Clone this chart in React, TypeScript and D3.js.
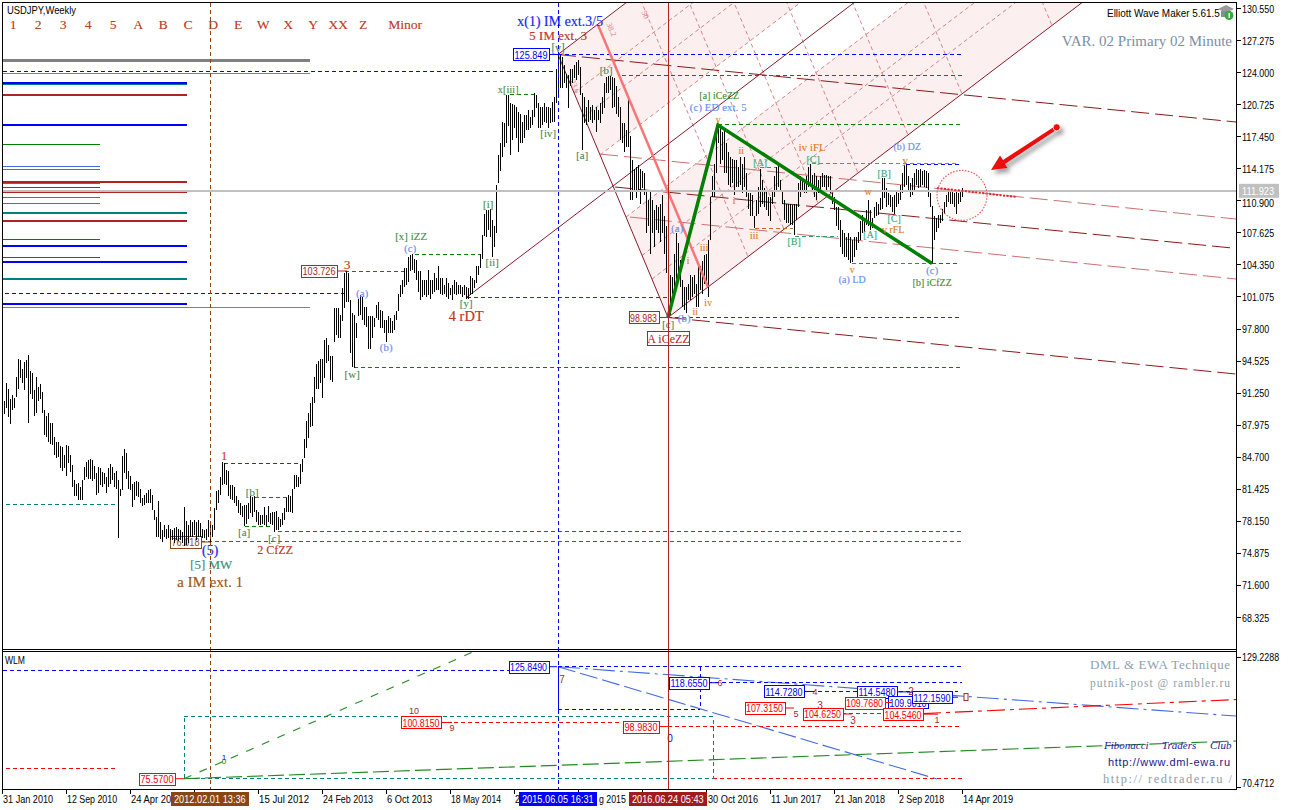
import React from 'react';
import * as d3 from 'd3';

// ---------- DATA ----------
// weekly [high, low] readings, one per week from 7 Feb 2010
const ranges2010to2013: [number, number][] = [
[90.4,89.1],[92.3,89.7],[91.7,88.8],[90.6,88.1],[91.1,89.5],[90.8,89.7],[92.9,90.9],[94.7,91.7],[94.6,92.8],[93.7,92.3],
[94.4,91.6],[94.6,92.8],[95.1,88.2],[93.5,91.2],[93.3,90.6],[91.6,88.9],[92.9,89.2],[91.9,90.4],[92.2,90.6],[91.4,89.2],
[89.5,87.0],[88.9,86.8],[89.2,86.3],[88.2,86.1],[88.2,85.9],[86.8,84.9],[86.3,84.6],[86.3,84.7],[85.8,83.6],[85.7,83.3],
[84.9,83.6],[85.9,82.8],[85.8,84.1],[84.9,83.2],[83.9,81.7],[82.4,80.7],[82.0,80.7],[82.1,80.3],[81.7,80.3],[82.4,80.3],
[83.7,82.4],[84.2,82.7],[84.4,82.5],[84.5,82.5],[84.4,82.3],[83.8,82.5],[83.1,80.8],[83.7,81.0],[83.6,81.9],[83.2,81.7],
[83.1,82.0],[82.7,81.0],[83.6,81.7],[84.0,82.0],[83.7,82.4],[83.1,81.7],[83.3,81.5],[82.4,76.4],[81.5,80.7],[84.8,81.4],
[85.5,83.1],[85.1,82.5],[83.3,81.5],[82.8,81.4],[82.0,79.6],[82.2,80.3],[82.3,80.7],[82.2,80.6],[81.5,80.0],[80.5,79.7],
[80.8,79.8],[81.0,80.0],[81.4,80.0],[81.5,80.0],[80.8,79.3],[79.3,78.3],[78.6,76.6],[80.2,76.6],[78.1,76.3],[77.3,76.0],
[77.8,76.6],[77.4,76.3],[77.8,76.4],[77.4,76.2],[77.3,76.2],[77.5,75.9],[77.6,76.2],[77.4,76.1],[77.3,76.2],[77.1,75.9],
[79.6,75.6],[78.2,75.7],[77.8,75.9],[78.3,76.6],[78.1,76.6],[78.3,76.8],[78.1,76.2],[78.3,76.6],[78.0,76.6],[77.4,76.4],
[77.3,76.4],[77.4,76.2],[78.3,76.6],[78.1,75.9],[77.8,76.6],[79.5,77.3],[81.2,79.3],[81.4,80.0],[82.7,80.8],[84.2,81.9],
[84.1,82.0],[83.4,81.9],[83.3,80.7],[81.9,80.4],[81.9,80.3],[81.7,80.0],[80.7,79.7],[80.3,79.0],[80.0,78.8],[79.7,78.6],
[79.8,77.7],[79.8,77.9],[80.0,78.4],[80.7,79.0],[80.6,78.6],[80.7,79.1],[79.3,78.1],[79.1,77.8],[78.8,77.8],[78.8,77.9],
[79.6,77.8],[78.8,77.7],[79.7,78.1],[79.0,77.9],[79.1,77.8],[79.1,77.1],[79.2,77.3],[78.6,77.3],[78.4,77.6],[79.0,77.8],
[79.5,78.3],[80.5,79.1],[80.8,79.1],[80.7,79.1],[81.5,79.0],[82.9,81.5],[82.9,81.7],[82.7,81.7],[84.0,82.0],[84.5,83.2],
[86.6,84.6],[88.4,85.6],[89.2,86.7],[90.2,87.8],[90.9,87.9],[92.9,90.2],[94.2,91.7],[94.5,91.7],[94.7,92.3],[94.7,90.8],
];
const ranges2013to2014: [number, number][] = [
[96.7,92.8],[96.9,94.3],[96.2,94.5],[95.0,92.6],[95.0,92.4],[99.9,96.5],[99.9,97.2],[99.9,96.9],[99.2,96.9],[102.0,98.6],
[103.5,99.9],[103.7,100.6],[103.5,100.6],[100.8,95.3],[99.4,93.9],[99.2,93.8],[98.4,96.9],[100.9,99.1],[101.3,99.2],[101.1,98.7],
[100.1,98.2],[100.0,98.0],[99.1,95.8],[99.1,95.8],[99.1,96.9],[98.9,98.0],[100.3,98.9],[100.6,98.7],[99.7,97.9],[99.6,97.9],
[98.7,97.4],[98.7,96.5],[99.1,97.4],[98.9,97.4],[98.6,97.4],[99.2,97.7],[99.6,98.7],[101.4,99.6],[102.3,101.1],[102.8,101.4],
[104.0,102.1],[104.0,102.3],[105.2,102.6],[105.4,103.7],[105.5,103.8],[105.0,103.5],[104.9,102.8],[103.7,101.6],[103.7,100.8],[102.8,101.1],
[102.8,101.3],[102.8,101.1],[103.8,101.3],[102.8,100.9],[102.8,101.4],[103.5,101.6],[103.0,101.8],[104.2,101.8],[103.0,101.4],[103.0,101.3],
[102.3,101.4],[103.0,101.1],[102.5,100.9],[102.0,101.3],[102.3,100.8],[102.8,101.4],[102.6,101.3],[102.3,101.4],[102.3,101.4],[102.1,101.1],
[102.3,101.3],[102.1,100.9],[102.0,100.9],[103.2,101.3],[103.0,101.4],[102.8,102.0],[104.2,102.5],[104.2,103.3],[105.5,104.0],[107.4,105.0],
];
const ranges2014to2018: [number, number][] = [
[109.6,107.3],[110.0,107.2],[110.0,107.9],[110.1,107.2],[108.9,105.2],[108.3,106.2],[112.5,107.6],[115.6,112.7],[116.8,113.9],[119.0,115.4],
[118.8,116.4],[121.7,116.8],[121.7,118.5],[120.9,115.6],[120.8,117.1],[120.7,118.3],[120.5,117.3],[120.0,115.9],[119.8,116.8],[119.0,116.8],
[119.7,117.3],[119.7,118.1],[120.2,118.1],[119.5,118.3],[120.2,118.6],[121.9,119.5],[121.7,120.4],[120.9,118.3],[120.5,118.3],[120.5,118.6],
[120.9,119.0],[120.5,118.8],[120.5,118.3],[120.4,118.8],[121.0,119.0],[121.5,119.0],[124.4,120.9],[125.85,121.7],[125.8,122.4],[125.6,122.4],
[124.8,122.9],[123.9,122.4],[123.8,120.4],[124.4,122.6],[124.4,122.9],[124.8,123.4],[125.1,123.2],[125.3,123.8],[124.6,121.7],[121.9,116.1],
[121.5,118.8],[120.5,118.6],[121.2,119.0],[120.5,119.2],[120.7,118.8],[120.2,119.2],[120.5,117.9],[120.2,119.2],[120.9,118.8],[121.5,119.8],
[122.9,120.4],[123.6,121.9],[123.7,121.9],[123.7,122.2],[123.6,120.4],[123.4,120.5],[122.6,119.8],[121.5,119.5],[120.5,117.1],[118.8,116.8],
[118.8,115.9],[118.1,116.4],[121.5,116.4],[117.5,111.0],[115.1,111.0],[114.1,111.8],[114.4,111.2],[114.6,112.0],[114.1,110.6],[113.9,112.2],
[113.7,111.5],[112.0,107.6],[111.0,108.3],[112.0,105.5],[111.0,107.6],[110.0,106.2],[110.5,107.9],[110.3,107.6],[110.6,106.7],[111.5,107.6],
[109.3,105.5],[108.3,103.5],[103.5,98.98],[103.3,99.2],[103.1,101.4],[105.5,101.8],[107.6,102.8],[106.6,103.5],[104.9,102.1],[102.8,100.1],
[102.1,99.7],[102.1,99.4],[102.4,100.8],[103.3,100.8],[103.1,101.1],[103.3,101.4],[102.4,100.1],[104.5,100.1],[104.2,101.8],[104.7,101.4],
[105.4,102.4],[105.5,102.4],[106.9,101.1],[111.3,106.9],[113.4,111.3],[114.7,111.3],[118.6,113.7],[118.6,116.8],[118.3,114.7],[117.9,115.1],
[118.1,113.7],[116.8,113.7],[115.9,112.5],[115.4,112.3],[115.2,112.7],[115.1,111.5],[115.1,112.3],[114.4,112.3],[115.4,112.5],[114.7,111.7],
[115.4,112.3],[113.7,111.3],[111.7,110.1],[111.7,109.3],[111.5,109.3],[109.3,108.1],[111.0,109.3],[112.3,109.6],[114.1,110.3],[113.0,110.6],
[112.2,110.3],[112.0,110.0],[111.3,109.3],[111.3,108.8],[112.0,110.6],[113.4,111.3],[114.4,112.0],[114.6,112.3],[113.0,111.8],[112.0,110.6],
[111.0,108.9],[110.6,108.6],[110.6,108.6],[110.6,108.4],[110.5,108.4],[110.6,107.4],[110.6,108.9],[112.7,110.3],[113.4,111.3],[113.0,111.8],
[112.9,111.7],[113.4,111.7],[114.4,112.3],[114.7,112.7],[113.5,111.8],[113.7,111.3],[113.4,111.0],[113.0,111.7],[113.4,111.8],[113.7,112.3],
[113.5,112.3],[113.5,111.8],[113.4,112.3],[113.4,111.7],[111.7,110.6],[111.3,110.0],[110.3,108.3],[110.3,107.9],[108.9,106.2],[107.9,105.5],
[107.6,105.2],[107.2,105.2],[107.6,104.9],[107.2,104.5],[106.9,104.6],
];
const ranges2018to2019: [number, number][] = [
[107.2,105.2],[107.2,105.9],[107.7,106.6],[108.8,106.9],[109.4,107.6],[108.9,107.7],[110.0,108.4],[111.0,108.3],[110.0,107.9],[109.1,108.1],
[110.3,109.1],[110.8,109.3],[110.6,109.5],[111.2,110.0],[113.2,110.1],[113.2,111.2],[112.2,110.3],[111.7,110.5],[111.5,110.3],[111.3,109.8],
[111.5,109.6],[111.8,110.3],[111.7,110.6],[112.5,111.0],[113.7,111.7],[114.6,112.3],[114.6,112.5],[113.4,112.0],[112.7,111.3],[113.2,111.5],
[113.7,111.8],[114.2,112.5],[114.0,112.2],[114.2,112.3],[113.9,112.5],[114.0,112.3],[113.9,112.2],[113.7,111.3],[111.7,110.3],[110.4,104.5],
[109.3,106.9],[109.1,107.7],[109.4,108.1],[109.4,108.6],[110.1,108.8],[110.8,109.6],[111.5,110.3],[112.0,110.8],[112.0,110.6],[112.0,110.6],
[111.7,110.3],[111.8,109.6],[111.7,110.6],[112.0,110.8],[112.2,111.3],
];
const weeklyRanges = [...ranges2010to2013, ...ranges2013to2014, ...ranges2014to2018, ...ranges2018to2019];

const priceTicks = [130.55,127.275,124,120.725,117.45,114.175,110.9,107.625,104.35,101.075,97.8,94.525,91.25,87.975,84.7,81.425,78.15,74.875,71.6,68.325];
const timeTickCount = 16;
// date labels as far as they stay visible beside the highlighted cursors: text, tick number, extra weeks
const timeLabels: [string, number, number][] = [['31 Jan 2010',0,0],['12 Sep 2010',1,0],['24 Apr 20',2,0],['15 Jul 2012',4,0],['24 Feb 2013',5,0],['6 Oct 2013',6,0],['18 May 2014',7,0],['2',8,0],['g 2015',9,10],['30 Oct 2016',11,0.5],['11 Jun 2017',12,0],['21 Jan 2018',13,0],['2 Sep 2018',14,0],['14 Apr 2019',15,0]];
const cursorLabels: [number, string, string][] = [[104,'2012.02.01 13:36','#8b4513'],[278,'2015.06.05 16:31','#0000ff'],[333,'2016.06.24 05:43','#a01c1c']];
const headerLabels: [string, number][] = [['1',13],['2',38],['3',63],['4',88],['5',113],['A',138],['B',163],['C',188],['D',213],['E',238],['W',263],['X',288],['Y',313],['XX',338],['Z',363],['Minor',405]];
const lastPrice = 111.923;

// horizontal levels: price, first week, last week, colour
const dashedLevels: [number, number, number, string][] = [
[125.85,278,480,'#0000ff'],[124.11,0.5,276.5,'#0000ff'],[101.48,1.5,171.5,'#0000ff'],[123.70,310,480,'#008000'],[118.65,358,480,'#008000'],
[105.41,206.5,239,'#008000'],[121.76,254,266.5,'#008000'],[103.68,171.5,201,'#a52a2a'],[101.07,232.5,333,'#8b1a1a'],[93.82,176,480,'#008000'],
[98.98,333,479,'#8b1a1a'],[79.82,2,58,'#008080'],[84.11,111,149,'#8b1a1a'],[80.63,126.5,142.5,'#008000'],[77.67,121.5,135,'#008000'],
[77.16,138,480,'#a52a2a'],[76.04,99.5,480,'#8b4513'],[114.71,405,478,'#d2691e'],[108.05,376.5,395.5,'#d2691e'],[114.35,379,387.5,'#2e9e6e'],
[107.3,396.5,418,'#2e9e6e'],[104.49,425,465,'#4169e1'],[104.49,465,479,'#008000'],[114.56,452,480,'#0000ff'],
];
// solid level stubs on the left: price, last week, colour, width
const sideLevels: [number, number, string, number][] = [
[125.24,154,'#808080',3],[123.86,154,'#808080',1],[99.95,154,'#808080',1],[122.94,92.5,'#0000ff',2],[122.78,92.5,'#008080',1],[121.71,92.5,'#b22222',2],
[118.65,92.5,'#0000ff',2],[116.66,49,'#008000',1],[114.41,49,'#4169e1',1],[114.1,49,'#4169e1',1],[112.62,49,'#4169e1',1],[112.83,92.5,'#b22222',2],
[112.26,49,'#008000',1],[111.8,92.5,'#b22222',2],[111.24,49,'#4169e1',1],[110.63,49,'#4169e1',1],[109.66,92.5,'#008080',2],[108.84,92.5,'#b22222',2],
[106.95,49,'#008000',1],[106.29,92.5,'#0000ff',2],[105.11,49,'#008000',1],[104.65,92.5,'#0000ff',2],[102.91,92.5,'#008080',2],[100.36,92.5,'#0000ff',2],
];
// pitchfork anchors [week, price]
const forkHandle: [number, number] = [232.5, 101.07];
const forkUpper: [number, number] = [278, 125.85];
const forkLower: [number, number] = [333, 98.98];
const fibFractions = [0.146, 0.236, 0.382, 0.618, 0.764, 0.854];
const fibShiftsWeeks = [40, 58, 75, 95, 120, 147, 192];
// sloping lines [week, price, week, price]
const darkSlopes: [number, number, number, number][] = [[278,125.85,617,118.95],[306.5,112.31,615,106.08],[333,98.98,617,93.2]];
const pinkSlopes: [number, number, number, number][] = [[299,115.68,617,109.04],[314,109.24,617,102.91]];
const salmonLine: [number, number, number, number] = [298,128.86,353,102.09];
const redDotted: [number, number, number, number] = [467.5,112.21,507.5,111.29];
const greenSwing: [number, number][] = [[333,98.98],[358,118.65],[465,104.5]];
const markerWeeks: [number, string][] = [[104,'#8b4513'],[278,'#0000ff']];
const iCeZZWeek = 333;

// wave labels: text, week, price, style, size
const waveLabels: [string, number, number, string, number][] = [
['x(1) IM ext.3/5',279,129.27,'blue',14],['5 IM ext. 3',278,127.84,'brick',13],['[v]',278,126.51,'gold',11.5],['[b]',302,124.27,'gold',11],['x[iii]',253,122.3,'gold',10.5],
['[iv]',273,117.83,'gold',11],['[a]',290,115.58,'gold',11],['[a] iCeZZ',358.5,121.71,'green',10],['(c) ED ext. 5',358,120.5,'corn',11],['v',358,119.16,'orange',10],
['ii',369.5,115.99,'orange',10],['[A]',379,114.86,'sea',10],['iv iFL',405,116.4,'orange',11],['[C]',405.5,115.17,'sea',10],['(b) DZ',452.5,116.4,'corn',10],
['y',451.5,115.07,'orange',11],['[B]',441,113.64,'sea',10],['w',433,111.9,'orange',10],['[C]',446,109.14,'sea',10],['[A]',434,107.5,'sea',10],['v rFL',445.5,107.92,'orange',10],
['i',366,110.98,'orange',10],['iii',376,107.4,'orange',10],['[B]',396,106.7,'sea',10],['v',425,103.93,'orange',10],['(a) LD',425,102.81,'corn',10],['(c)',465,103.83,'corn',11],
['[b] iCfZZ',465,102.6,'green',10],['(a)',337.5,108.12,'corn',11],['i',343,104.85,'orange',10],['iii',351,106.18,'orange',10],['iv',353,100.56,'orange',10],
['ii',346.5,99.54,'orange',10],['(b)',341,98.92,'corn',11],['[c]',333,98.31,'gold',11],['[i]',243,110.57,'gold',11],['[ii]',245,104.65,'gold',11],['[y]',232,100.46,'gold',11],
['4 rDT',232,99.13,'brick',14.5],['[x] iZZ',204.5,107.3,'gold',11],['(c)',204,106.08,'corn',11],['3',172.5,104.44,'brick',13],['(a)',180,101.48,'corn',11],['(b)',192,95.96,'corn',11],
['[w]',175,93.2,'gold',11],['1',111,84.82,'redw',12],['[b]',125,81.15,'gold',11],['[a]',121,77.06,'gold',11],['[c]',136,76.44,'gold',11],['2 CfZZ',136.5,75.22,'brick',12],
['(5)',104,75.12,'blue',14],['[5] MW',104.5,73.69,'teal',13],['a IM ext. 1',104,71.95,'brown',15],
];
// price boxes in the main pane: text, week, price, colour, width
const priceBoxes: [string, number, number, string, number][] = [['125.849',264.5,125.85,'#0000ff',36],['103.726',158.5,103.73,'#a52a2a',36],['98.983',320.75,98.98,'#b22222',30]];
const fifthBox: [string, number, number, string, number] = ['76.018',91.75,76.04,'#8b4513',31];

// lower pane
const wlmBoxes: [number, number, string, number][] = [
[125.849,263.25,'#0000ff',277.5],[118.655,343.5,'#0000ff',358],[114.728,391,'#0000ff',405],[114.548,437.5,'#0000ff',453],[109.981,453,'#0000ff',463],[112.159,465,'#0000ff',478],
[107.315,381.25,'#ff0000',396],[104.625,410.25,'#ff0000',425],[109.768,431.25,'#ff0000',445],[104.546,450.5,'#ff0000',468],[100.815,209.5,'#ff0000',225],[98.983,319.5,'#ff0000',333],[75.57,77.5,'#ff0000',91],
];
const wlmLevels: [number, number, number, string][] = [
[125.849,278,480,'#0000ff'],[123.92,0.5,255,'#0000ff'],[118.655,353,480,'#0000ff'],[114.728,401,430,'#0000ff'],[114.548,445,478,'#0000ff'],[106.64,278,349,'#0000cd'],
[100.815,219,310,'#ff0000'],[98.983,333,480,'#ff0000'],[75.57,355.5,480,'#ff0000'],[104.625,420,441,'#ff0000'],[80.37,2,57.5,'#ff0000'],
];
const wlmTeal: [number, number, number, number] = [91,355.5,103.27,75.57];
const wlmSlopes: [number, number, number, number, string, string][] = [
[91,75.57,235.5,132.45,'#228b22','8 9'],[91,75.57,617,92.5,'#228b22','16 5'],[278,125.849,467.5,75.44,'#4169e1','18 5'],[278,125.849,617,103.7,'#4169e1','22 5 3 5'],[460.5,104.8,617,111.1,'#ff0000','18 5 4 5'],
];
const wlmCounts: [string, number, number, string, number][] = [
['10',206,105.96,'#a52a2a',9],['9',225,98.3,'#a52a2a',9],['7',280,119.9,'#a52a2a',10],['6',359,118.6,'#a52a2a',9],['4',406.5,114.7,'#a52a2a',9],['5',397,104.6,'#a52a2a',9],['3',409,108.65,'#a52a2a',10],
['3',425.5,101.9,'#a52a2a',10],['2',454.5,114.9,'#a52a2a',10],['1',467.5,101.9,'#a52a2a',9],['0',334,93.8,'#0000ff',10],['1',111,85.3,'#0000ff',8],['0',111,83.5,'#008000',8],
];
const sideInfo = { upper: '129.2288', lower: '70.4712' };

// ---------- GEOMETRY ----------
const W = 1289, H = 810;
const left = 2.5, right = 1236.5, top = 2.5, paneBottom = 649.5, subTop = 651.5, bottom = 789.5;
const x = d3.scaleLinear().domain([0, 480]).range([2, 962]);
const y = d3.scaleLinear().domain([130.55, 68.325]).range([8.5, 617.5]);
const ys = d3.scaleLinear().domain([125.849, 75.57]).range([666.7, 778.7]);
const line2 = d3.line<[number, number]>().x(d => x(d[0])).y(d => y(d[1]));

const SERIF = '"Liberation Serif","Times New Roman",serif';
const SANS = '"Liberation Sans",Arial,sans-serif';
const stylesMap: Record<string, [string, string]> = {
  blue: ['#0000ee', '#5a7cff'], brick: ['#b22222', '#e0702a'], gold: ['#0b8f7a', '#d09a10'], green: ['#0a8a3a', '#b9a21a'], corn: ['#5f86ee', '#8aa6f5'],
  orange: ['#d9701a', '#f0a040'], sea: ['#2fa36f', '#60c596'], redw: ['#d02020', '#f06050'], teal: ['#0a8f9a', '#9aa040'], brown: ['#8b4513', '#c98a40'],
};
const sansWidth = (s: string, size: number) => {
  let w = 0;
  for (const c of s) w += /[ .,:\/]/.test(c) ? 0.278 : /[A-Z]/.test(c) ? 0.667 : 0.54;
  return w * size;
};
const SansText = (p: { x: number; y: number; s: string; fill?: string; anchor?: string; size?: number; squeeze?: number }) => {
  const size = p.size ?? 10.5;
  const len = sansWidth(p.s, size) * (p.squeeze ?? 0.88);
  return (
    <text x={p.x} y={p.y} fill={p.fill ?? '#000'} fontFamily={SANS} fontSize={size} textAnchor={p.anchor ?? 'start'} dominantBaseline="central" textLength={len} lengthAdjust="spacingAndGlyphs">{p.s}</text>
  );
};
const Fringe = (p: { x: number; y: number; s: string; style: string; size: number }) => {
  const [a, b] = stylesMap[p.style];
  return (
    <g fontFamily={SERIF} fontSize={p.size} textAnchor="middle" dominantBaseline="central">
      <text x={p.x + 0.45} y={p.y} fill={b} fillOpacity={0.75}>{p.s}</text>
      <text x={p.x} y={p.y} fill={a} fillOpacity={0.8}>{p.s}</text>
    </g>
  );
};
const Box = (p: { cx: number; cy: number; w: number; h?: number; s: string; color: string; size?: number; fillNone?: boolean }) => {
  const h = p.h ?? 12;
  return (
    <g>
      <rect x={Math.round(p.cx - p.w / 2) + 0.5} y={Math.round(p.cy - h / 2) + 0.5} width={p.w} height={h} fill={p.fillNone ? 'none' : '#fff'} stroke={p.color} strokeWidth={1} shapeRendering="crispEdges" />
      <text x={p.cx} y={p.cy + 0.5} fill={p.color} fontFamily={SANS} fontSize={p.size ?? 10.5} textAnchor="middle" dominantBaseline="central" textLength={p.w - 3} lengthAdjust="spacingAndGlyphs">{p.s}</text>
    </g>
  );
};

export default function App() {
  // pitchfork in pixels
  const A: [number, number] = [x(forkUpper[0]), y(forkUpper[1])];
  const C: [number, number] = [x(forkLower[0]), y(forkLower[1])];
  const Hd: [number, number] = [x(forkHandle[0]), y(forkHandle[1])];
  const M: [number, number] = [(A[0] + C[0]) / 2, (A[1] + C[1]) / 2];
  const slope = (Hd[1] - M[1]) / (M[0] - Hd[0]);
  const onBase = (f: number): [number, number] => [A[0] + (C[0] - A[0]) * f, A[1] + (C[1] - A[1]) * f];
  const toTop = (p: [number, number]): [number, number] => [p[0] + (p[1] - top) / slope, top];
  const poly = (f1: number, f2: number) => [onBase(f1), onBase(f2), toTop(onBase(f2)), toTop(onBase(f1))].map(p => p.join(',')).join(' ');

  const arrowTail: [number, number] = [1056.7, 127.3];

  return (
    <svg width={W} height={H} viewBox={`0 0 ${W} ${H}`} style={{ position: 'absolute', left: 0, top: 0, background: '#fff' }}>
      <defs>
        <clipPath id="mainClip"><rect x={left} y={top} width={right - left} height={paneBottom - top} /></clipPath>
        <clipPath id="subClip"><rect x={left} y={subTop} width={right - left} height={bottom - subTop} /></clipPath>
        <filter id="soft" x="-40%" y="-40%" width="180%" height="180%"><feDropShadow dx="3" dy="4" stdDeviation="2.2" floodColor="#555" floodOpacity="0.55" /></filter>
      </defs>

      <g clipPath="url(#mainClip)">
        {/* pitchfork fill */}
        <polygon points={poly(0, 0.382)} fill="#fbeff0" />
        <polygon points={poly(0.618, 1)} fill="#fbeff0" />
        {/* fib lattice */}
        <g stroke="#d98484" strokeWidth={1} strokeDasharray="4 3" fill="none">
          {fibFractions.map(f => { const a = onBase(f), b = toTop(a); return <line key={f} x1={a[0]} y1={a[1]} x2={b[0]} y2={b[1]} />; })}
          {fibShiftsWeeks.map(wk => { const s = x(wk) - x(0); return <line key={wk} x1={A[0] + s} y1={A[1] - s * slope} x2={C[0] + s} y2={C[1] - s * slope} />; })}
        </g>
        <g fontFamily={SERIF} fontSize={8} fill="#d98484" textAnchor="middle">
          <text transform={`translate(${x(277)},${y(126)}) rotate(67)`} x={38} y={-2}>23.6</text>
          <text transform={`translate(${x(300)},${y(130)}) rotate(67)`} x={18} y={0}>38.2</text>
          <text transform={`translate(${x(320)},${y(130)}) rotate(67)`} x={2} y={0}>50</text>
        </g>
        {/* pitchfork lines */}
        <g stroke="#8b1a2a" strokeWidth={1} fill="none">
          <line x1={A[0]} y1={A[1]} x2={C[0]} y2={C[1]} />
          <line x1={Hd[0]} y1={Hd[1]} x2={toTop(Hd)[0]} y2={top} />
          <line x1={A[0]} y1={A[1]} x2={toTop(A)[0]} y2={top} />
          <line x1={C[0]} y1={C[1]} x2={toTop(C)[0]} y2={top} />
        </g>
        {/* long dashed slopes */}
        {pinkSlopes.map((d, i) => <path key={i} d={line2([[d[0], d[1]], [d[2], d[3]]])!} stroke="#cd7070" strokeWidth={1} strokeDasharray="18 6" fill="none" />)}
        {darkSlopes.map((d, i) => <path key={i} d={line2([[d[0], d[1]], [d[2], d[3]]])!} stroke="#8b1a1a" strokeWidth={1} strokeDasharray="18 6" fill="none" />)}
        {/* side stubs */}
        {sideLevels.map((d, i) => <line key={i} x1={left} x2={x(d[1])} y1={y(d[0])} y2={y(d[0])} stroke={d[2]} strokeWidth={d[3]} shapeRendering="crispEdges" />)}
        {/* dashed levels */}
        {dashedLevels.map((d, i) => <line key={i} x1={x(d[1])} x2={x(d[2])} y1={y(d[0])} y2={y(d[0])} stroke={d[3]} strokeWidth={1} strokeDasharray="4 3" shapeRendering="crispEdges" />)}
        {/* last bid */}
        <Box cx={x(fifthBox[1])} cy={y(fifthBox[2])} w={fifthBox[4]} s={fifthBox[0]} color={fifthBox[3]} />
        <line x1={x(fifthBox[1]) + fifthBox[4] / 2} x2={x(104)} y1={y(fifthBox[2])} y2={y(fifthBox[2])} stroke={fifthBox[3]} strokeWidth={1} />
        {/* bars */}
        <g stroke="#000" strokeWidth={1} shapeRendering="crispEdges">
          {weeklyRanges.map((d, i) => <line key={i} x1={x(i + 1) + 0.5} x2={x(i + 1) + 0.5} y1={y(d[0])} y2={y(d[1])} />)}
        </g>
        <line x1={left} x2={right} y1={y(lastPrice)} y2={y(lastPrice)} stroke="#c0c0c0" strokeWidth={2} shapeRendering="crispEdges" />
        <path d={line2([[salmonLine[0], salmonLine[1]], [salmonLine[2], salmonLine[3]]])!} stroke="#f87676" strokeWidth={2.5} fill="none" />
        <path d={line2(greenSwing)!} stroke="#008000" strokeWidth={3.5} fill="none" strokeLinejoin="miter" />
        <path d={line2([[redDotted[0], redDotted[1]], [redDotted[2], redDotted[3]]])!} stroke="#e61e28" strokeWidth={2} strokeDasharray="2 1.5" fill="none" />
        {/* price boxes */}
        {priceBoxes.map((d, i) => (
          <g key={i}>
            <line x1={x(d[1]) + d[4] / 2} x2={x(d[1]) + d[4] / 2 + 10} y1={y(d[2])} y2={y(d[2])} stroke={d[3]} strokeWidth={1} />
            <Box cx={x(d[1])} cy={y(d[2])} w={d[4]} s={d[0]} color={d[3]} size={11} />
          </g>
        ))}
        {/* wave labels */}
        {waveLabels.map((d, i) => <Fringe key={i} x={x(d[1])} y={y(d[2])} s={d[0]} style={d[3]} size={d[4]} />)}
        <rect x={647.5} y={331.5} width={42} height={14} fill="#fff" stroke="#b22222" strokeWidth={1} shapeRendering="crispEdges" />
        <text x={668.5} y={339} fontFamily={SERIF} fontSize={12} fill="#b22222" textAnchor="middle" dominantBaseline="central">A iCeZZ</text>
        {/* target circle and arrow */}
        <circle cx={x(480)} cy={y(111.45)} r={25} fill="#ff9999" fillOpacity={0.05} stroke="#ee5a5a" strokeWidth={1.2} strokeDasharray="1.5 1.5" />
        <g filter="url(#soft)">
          <polygon points={`${arrowTail[0] - 1},${arrowTail[1] - 1.6} ${arrowTail[0] + 1},${arrowTail[1] + 1.6} 1005,164 1007.5,168 991,170 1000,155.5 1003,160`} fill="#ee1111" />
          <circle cx={arrowTail[0]} cy={arrowTail[1]} r={3.6} fill="#ee1111" stroke="#fff" strokeWidth={0.8} />
        </g>
        {/* text */}
        <g fontFamily={SERIF} fontSize={13.5} textAnchor="middle" dominantBaseline="central">
          {headerLabels.map(([s, cx]) => (
            <g key={s}>
              <text x={cx + 0.45} y={24} fill="#e8803a" fillOpacity={0.75}>{s}</text>
              <text x={cx} y={24} fill="#b22222" fillOpacity={0.8}>{s}</text>
            </g>
          ))}
        </g>
        <SansText x={7} y={10} s="USDJPY,Weekly" size={10.5} squeeze={0.86} />
        <SansText x={1107} y={13} s="Elliott Wave Maker 5.61.5" size={10.5} squeeze={0.855} />
        <g>
          <polygon points="1218,9 1226,5 1234,9 1226,13" fill="#9a9a9a" />
          <rect x={1221} y={11} width={10} height={6} fill="#7d8d9d" />
          <circle cx={1229} cy={15.5} r={4.5} fill="#3aaa3a" />
          <rect x={1228.5} y={13} width={1.5} height={5} fill="#fff" />
        </g>
        <text x={1232} y={41} fontFamily={SERIF} fontSize={15} fill="#7b8fa5" textAnchor="end" dominantBaseline="central">VAR. 02 Primary 02 Minute</text>
      </g>

      {/* lower pane */}
      <g clipPath="url(#subClip)">
        <rect x={x(wlmTeal[0])} y={ys(wlmTeal[2])} width={x(wlmTeal[1]) - x(wlmTeal[0])} height={ys(wlmTeal[3]) - ys(wlmTeal[2])} fill="none" stroke="#008080" strokeDasharray="4 3" shapeRendering="crispEdges" />
        {wlmSlopes.map((d, i) => <line key={i} x1={x(d[0])} y1={ys(d[1])} x2={x(d[2])} y2={ys(d[3])} stroke={d[4]} strokeWidth={1.1} strokeDasharray={d[5]} />)}
        {wlmLevels.map((d, i) => <line key={i} x1={x(d[1])} x2={x(d[2])} y1={ys(d[0])} y2={ys(d[0])} stroke={d[3]} strokeDasharray="4 3" shapeRendering="crispEdges" />)}
        <line x1={x(278)} x2={x(278)} y1={ys(125.849)} y2={ys(106.64)} stroke="#0000ff" strokeWidth={1} shapeRendering="crispEdges" />
        <line x1={x(349)} x2={x(349)} y1={ys(125.849)} y2={ys(106.64)} stroke="#0000cd" strokeDasharray="4 3" shapeRendering="crispEdges" />
        {wlmBoxes.map((d, i) => (
          <g key={i}>
            <line x1={x(d[1])} x2={x(d[3])} y1={ys(d[0])} y2={ys(d[0])} stroke={d[2]} strokeWidth={1} />
            <Box cx={x(d[1])} cy={ys(d[0])} w={d[0] < 100 ? 36 : 40} h={12} s={d[0].toFixed(4)} color={d[2]} size={11.5} />
          </g>
        ))}
        {wlmCounts.map((d, i) => <text key={i} x={x(d[1])} y={ys(d[2])} fontFamily={SANS} fontSize={d[4]} fill={d[3]} textAnchor="middle" dominantBaseline="central">{d[0]}</text>)}
        <rect x={x(481)} y={ys(113.8)} width={4} height={7} fill="none" stroke="#a52a2a" />
        <SansText x={5} y={660} s="WLM" size={10} squeeze={1} />
        <text x={1230} y={664} fontFamily={SERIF} fontSize={13} fill="#8fa0ad" textAnchor="end" dominantBaseline="central" textLength={140}>DML &amp; EWA Technique</text>
        <text x={1230} y={683} fontFamily={SERIF} fontSize={11.5} fill="#8fa0ad" textAnchor="end" dominantBaseline="central" textLength={140}>putnik-post @ rambler.ru</text>
        <g fontFamily={SERIF} fontStyle="italic" fontSize={11} fill="#1a1a8c" dominantBaseline="central">
          <text x={1104} y={745}>Fibonacci</text>
          <text x={1162} y={745}>Traders</text>
          <text x={1210} y={745}>Club</text>
        </g>
        <text x={1230} y={762} fontFamily={SANS} fontSize={11} fill="#18188c" textAnchor="end" dominantBaseline="central" textLength={122}>http://www.dml-ewa.ru</text>
        <text x={1232} y={779} fontFamily={SERIF} fontSize={12.5} fill="#8fa0ad" textAnchor="end" dominantBaseline="central" textLength={129}>http:// redtrader.ru /</text>
      </g>

      {/* vertical markers */}
      {markerWeeks.map(([wk, c]) => <line key={wk} x1={x(wk) + 0.5} x2={x(wk) + 0.5} y1={top} y2={bottom} stroke={c} strokeWidth={1} strokeDasharray="4 3" shapeRendering="crispEdges" />)}
      <line x1={x(iCeZZWeek) + 0.5} x2={x(iCeZZWeek) + 0.5} y1={top} y2={bottom} stroke="#b22222" strokeWidth={1} shapeRendering="crispEdges" />

      {/* frame */}
      <g stroke="#000" strokeWidth={1} fill="none" shapeRendering="crispEdges">
        <rect x={left} y={top} width={right - left} height={bottom - top} />
        <line x1={left} x2={right} y1={paneBottom} y2={paneBottom} />
        <line x1={left} x2={right} y1={subTop} y2={subTop} />
      </g>

      {/* price axis */}
      {priceTicks.map(p => (
        <g key={p}>
          <line x1={right} x2={right + 4} y1={y(p)} y2={y(p)} stroke="#000" shapeRendering="crispEdges" />
          {p === 110.9 || <SansText x={right + 5.5} y={y(p)} s={p.toFixed(3)} size={10.5} squeeze={0.87} />}
        </g>
      ))}
      <rect x={1239} y={y(lastPrice) - 7} width={40} height={14} fill="#c0c0c0" />
      <SansText x={1242} y={y(lastPrice)} s={lastPrice.toFixed(3)} size={10.5} squeeze={0.87} fill="#fff" />
      <SansText x={right + 5.5} y={y(110.9) + 2.5} s={(110.9).toFixed(3)} size={10.5} squeeze={0.87} />
      <line x1={right} x2={right + 4} y1={657.5} y2={657.5} stroke="#000" shapeRendering="crispEdges" />
      <SansText x={1242} y={657} s={sideInfo.upper} size={10.5} squeeze={0.87} />
      <line x1={right} x2={right + 4} y1={787.5} y2={787.5} stroke="#000" shapeRendering="crispEdges" />
      <SansText x={1242} y={783} s={sideInfo.lower} size={10.5} squeeze={0.87} />

      {/* time axis */}
      {d3.range(timeTickCount).map(k => (
        <line key={k} x1={x(k * 32) + 0.5} x2={x(k * 32) + 0.5} y1={bottom} y2={bottom + 4} stroke="#000" shapeRendering="crispEdges" />
      ))}
      {timeLabels.map(([s, k, extra]) => <SansText key={s} x={x(k * 32 + extra) + 1} y={799} s={s} size={10.5} squeeze={0.86} />)}
      {cursorLabels.map(([wk, s, c]) => (
        <g key={s}>
          <rect x={x(wk) - 39} y={792} width={78} height={14} fill={c} />
          <SansText x={x(wk) - 36} y={799} s={s} size={10.5} fill="#fff" squeeze={0.9} />
        </g>
      ))}
    </svg>
  );
}
